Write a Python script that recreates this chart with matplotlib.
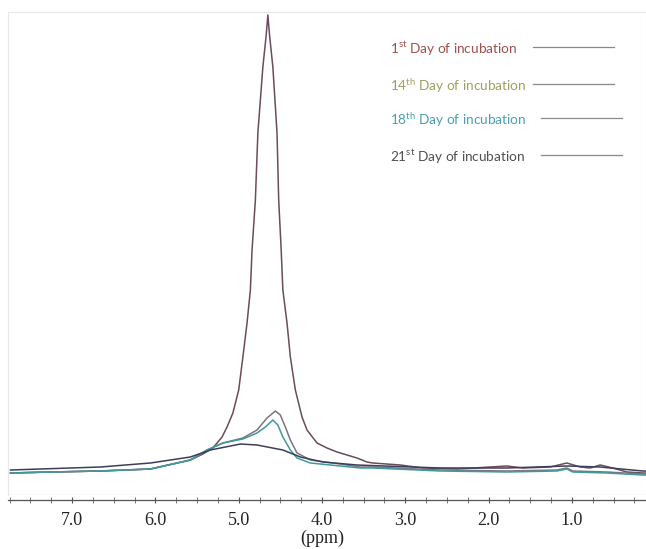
import numpy as np
import matplotlib
matplotlib.use("Agg")
import matplotlib.pyplot as plt
from matplotlib.ticker import MultipleLocator

# values (ppm, intensity in arbitrary units)
ppm_day1 = [7.74, 7.26, 6.66, 6.06, 5.58, 5.43, 5.31, 5.20, 5.14, 5.07, 5.00, 4.95, 4.90,
            4.86, 4.84, 4.80, 4.77, 4.71, 4.67, 4.65, 4.63, 4.59, 4.54, 4.52, 4.49, 4.47,
            4.42, 4.38, 4.32, 4.24, 4.18, 4.06, 3.94, 3.82, 3.70, 3.58, 3.46, 3.39, 3.06,
            2.79, 2.38, 1.98, 1.78, 1.59, 1.26, 1.06, 0.90, 0.78, 0.66, 0.51, 0.34, 0.15, 0.11]
int_day1 = [22, 23, 24, 26, 35, 41, 47, 58, 68, 82, 105, 138, 172,
            205, 245, 295, 362, 428, 460, 480, 460, 428, 362, 295, 245, 205,
            172, 138, 105, 78, 65, 52, 47, 43, 40, 37, 33, 32, 30,
            27, 26, 28, 29, 27, 28, 32, 28, 27, 30, 27, 23, 22, 22]

ppm_day14 = [7.74, 7.26, 6.66, 6.06, 5.58, 5.38, 5.19, 4.95, 4.78, 4.66, 4.56, 4.50, 4.44,
             4.38, 4.30, 4.14, 3.78, 3.54, 3.39, 2.58, 1.78, 1.18, 1.06, 0.99, 0.58, 0.15, 0.11]
int_day14 = [22, 23, 24, 26, 35, 45, 52, 57, 65, 77, 84, 80, 68,
             55, 42, 35, 31, 28, 28, 25, 24, 25, 27, 24, 23, 21, 21]

ppm_day18 = [7.74, 7.26, 6.66, 6.06, 5.58, 5.38, 5.19, 4.95, 4.78, 4.68, 4.59, 4.53, 4.47,
             4.38, 4.30, 4.14, 3.78, 3.54, 3.39, 2.58, 1.78, 1.18, 1.06, 0.99, 0.58, 0.15, 0.11]
int_day18 = [22, 23, 24, 26, 35, 45, 52, 56, 62, 68, 75, 70, 58,
             45, 37, 32, 29, 27, 27, 24, 23, 24, 26, 23, 22, 20, 20]

ppm_day21 = [7.74, 6.66, 6.06, 5.58, 5.34, 4.98, 4.78, 4.47, 4.26, 3.99, 3.58, 2.58, 1.78,
             1.06, 0.66, 0.15, 0.11]
int_day21 = [25, 28, 32, 38, 45, 51, 50, 45, 38, 33, 30, 27, 27, 29, 28, 24, 24]

labels = ["1", "14", "18", "21"]
sups = ["st", "th", "th", "st"]
line_colors = ["#6a4c5c", "#7d7480", "#3f9a9a", "#3b3f5c"]
text_colors = ["#a0504a", "#a0a060", "#4aa0b0", "#505050"]

plt.rcParams["mathtext.fontset"] = "custom"
plt.rcParams["mathtext.rm"] = "Lato"

fig = plt.figure(figsize=(6.46, 5.49), dpi=100)
ax = fig.add_axes([8 / 646, 54 / 549, 638 / 646, 483 / 549])

series = [(ppm_day1, int_day1), (ppm_day14, int_day14),
          (ppm_day18, int_day18), (ppm_day21, int_day21)]
for i in [3, 2, 1, 0]:
    x, y = series[i]
    ax.plot(x, y, color=line_colors[i], lw=1.1, zorder=3 + i,
            solid_joinstyle="round")

ax.set_xlim(7.77, 0.11)
ax.set_ylim(0, 483)

for s in ["top", "left", "right"]:
    ax.spines[s].set_color("#e8e8e8")
ax.axhline(0, color="#e8e8e8", lw=1.0)
ax.spines["bottom"].set_position(("outward", 3.6))
ax.spines["bottom"].set_color("#555555")
ax.spines["bottom"].set_linewidth(0.9)

ax.set_yticks([])
ax.xaxis.set_minor_locator(MultipleLocator(0.25))
ax.tick_params(axis="x", which="major", direction="inout", length=5, width=0.8,
               color="#555555", pad=6)
ax.tick_params(axis="x", which="minor", direction="inout", length=4, width=0.7,
               color="#777777")
ax.set_xticks([7, 6, 5, 4, 3, 2, 1])
ax.set_xticklabels(["7.0", "6.0", "5.0", "4.0", "3.0", "2.0", "1.0"],
                   family="Liberation Serif", fontsize=13, color="#222222")
ax.set_xlabel("(ppm)", family="Liberation Serif", fontsize=13, color="#222222")
ax.xaxis.set_label_coords(0.492, -0.072)

# hand-made legend
text_y = [0.9107, 0.8434, 0.7814, 0.714]
line_y = [0.9144, 0.847, 0.785, 0.7177]
line_x = [(0.825, 0.950), (0.825, 0.950), (0.837, 0.963), (0.837, 0.963)]
for i in range(4):
    fig.text(0.604, text_y[i], labels[i] + r"$^{\rm " + sups[i] + "}$" + " Day of incubation",
             family="Lato", fontsize=9.8, color=text_colors[i], va="center")
    fig.add_artist(plt.Line2D(line_x[i], [line_y[i], line_y[i]], color="#8a8a8a", lw=0.9))

fig.savefig("out.png", dpi=100)
